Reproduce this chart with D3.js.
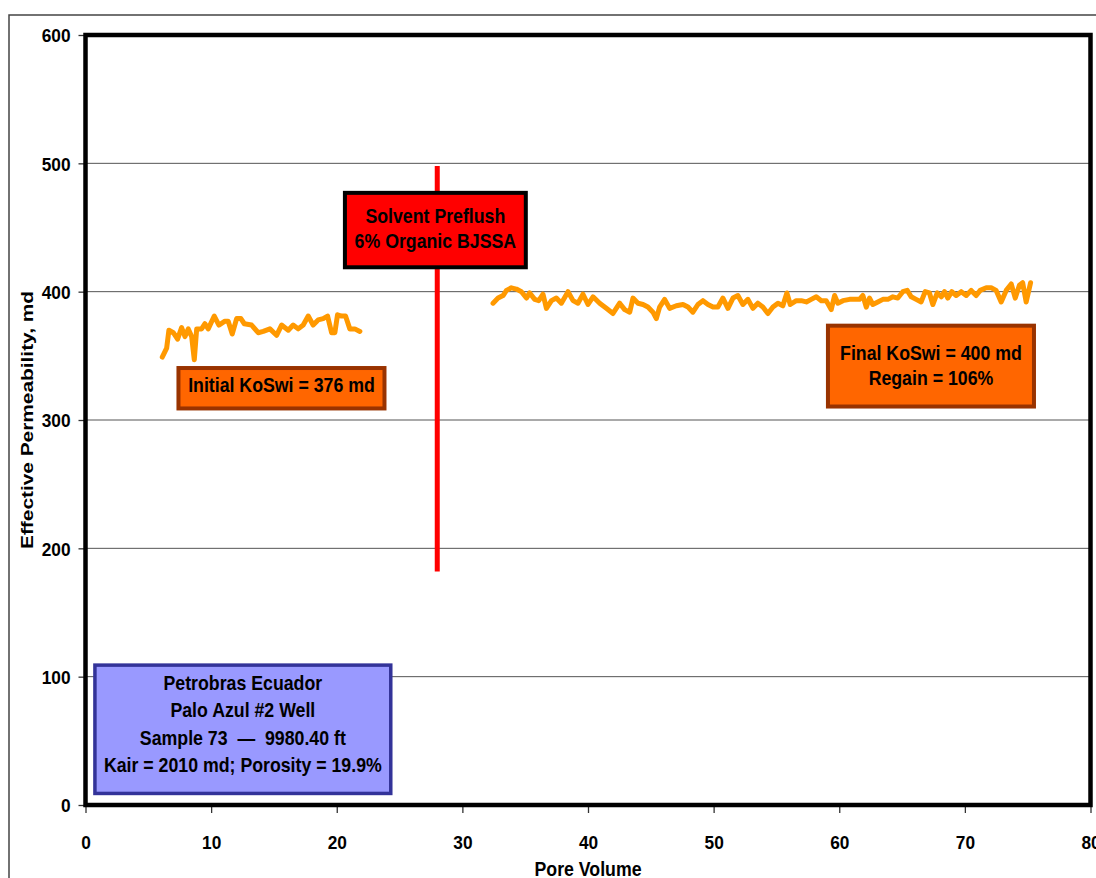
<!DOCTYPE html>
<html>
<head>
<meta charset="utf-8">
<script src="https://cdn.jsdelivr.net/npm/d3@7"></script>
<style>
  body { margin: 0; background: #fff; }
  text { font-family: "Liberation Sans", Arial, sans-serif; font-weight: bold; fill: #000; }
</style>
</head>
<body>
<div id="wrapper"></div>
<script>
// initial oil permeability (before preflush)
const initialPV = [6.11, 6.46, 6.64, 6.99, 7.33, 7.65, 7.92, 8.18, 8.45, 8.66, 8.85, 9.24, 9.51, 9.77, 10.25, 10.62, 11.1, 11.36, 11.68, 12.03, 12.37, 12.64, 13.22, 13.75, 14.15, 14.68, 15.21, 15.61, 16.14, 16.53, 16.93, 17.33, 17.73, 18.12, 18.52, 18.92, 19.27, 19.59, 19.85, 20.06, 20.38, 20.7, 21.04, 21.44, 21.84];
const initialK = [349, 356, 370, 368, 363, 372, 365, 371, 365, 347, 371, 371, 375, 371, 381, 374, 377, 377, 367, 379, 379, 375, 374, 368, 369, 371, 366, 374, 370, 374, 371, 374, 381, 374, 378, 379, 381, 368, 368, 382, 381, 381, 371, 371, 369];

// final oil permeability (after preflush)
const finalPV = [32.44, 32.84, 33.24, 33.51, 33.9, 34.3, 34.7, 35.1, 35.36, 35.76, 36.08, 36.42, 36.69, 37.09, 37.48, 37.88, 38.41, 38.81, 39.2, 39.6, 40.0, 40.4, 40.93, 41.46, 41.99, 42.52, 42.92, 43.32, 43.58, 43.98, 44.38, 44.77, 45.17, 45.44, 45.7, 46.1, 46.5, 47.03, 47.56, 47.96, 48.35, 48.75, 49.15, 49.55, 49.95, 50.34, 50.74, 51.14, 51.54, 51.93, 52.33, 52.73, 53.13, 53.52, 53.92, 54.32, 54.72, 55.12, 55.51, 55.83, 56.1, 56.58, 56.98, 57.38, 57.77, 58.17, 58.57, 58.96, 59.36, 59.63, 59.89, 60.29, 60.82, 61.22, 61.61, 61.88, 62.15, 62.41, 62.67, 63.07, 63.47, 63.87, 64.27, 64.66, 65.06, 65.41, 65.73, 66.12, 66.52, 66.84, 67.18, 67.45, 67.8, 68.12, 68.38, 68.64, 68.96, 69.31, 69.71, 70.11, 70.5, 70.9, 71.22, 71.7, 72.09, 72.49, 72.89, 73.29, 73.69, 74.01, 74.34, 74.6, 74.88, 75.23];
const finalK = [391, 395, 397, 401, 403, 402, 400, 395, 399, 394, 393, 398, 387, 393, 395, 391, 400, 393, 391, 398, 390, 396, 391, 387, 383, 391, 386, 384, 395, 391, 390, 388, 384, 379, 388, 394, 387, 389, 390, 388, 384, 390, 393, 390, 388, 388, 395, 387, 395, 397, 390, 394, 387, 391, 388, 383, 388, 391, 389, 399, 390, 393, 393, 392, 394, 396, 393, 393, 386, 397, 391, 393, 394, 394, 394, 397, 388, 395, 390, 392, 394, 394, 396, 395, 400, 401, 396, 394, 392, 400, 399, 390, 399, 396, 400, 395, 400, 397, 400, 397, 401, 397, 401, 403, 403, 401, 392, 401, 406, 395, 405, 407, 392, 407];

// preflush marker
const preflushPV = 28;
const preflushRange = [182, 498];

const xTicks = [0, 10, 20, 30, 40, 50, 60, 70, 80];
const yTicks = [0, 100, 200, 300, 400, 500, 600];

const initialLabel = ["Initial KoSwi = 376 md"];
const finalLabel = ["Final KoSwi = 400 md", "Regain = 106%"];
const stageLabel = ["Solvent Preflush", "6% Organic BJSSA"];
const wellLabel = ["Petrobras Ecuador", "Palo Azul #2 Well", "Sample 73 \u00a0\u2014\u00a0 9980.40 ft", "Kair = 2010 md; Porosity = 19.9%"];

const initialSeries = initialPV.map((x, i) => ({ x, y: initialK[i] }));
const finalSeries = finalPV.map((x, i) => ({ x, y: finalK[i] }));

// the original lettering is a tall, narrow face
const squeeze = "scale(0.91,1)";

const dimensions = {
  width: 1096,
  height: 878,
  margin: { top: 35, right: 5.5, bottom: 73, left: 85.5 },
};
dimensions.boundedWidth = dimensions.width - dimensions.margin.left - dimensions.margin.right;
dimensions.boundedHeight = dimensions.height - dimensions.margin.top - dimensions.margin.bottom;

const svg = d3.select("#wrapper")
  .append("svg")
  .attr("width", dimensions.width)
  .attr("height", dimensions.height);

// outer chart frame (cut by page edge)
svg.append("path")
  .attr("d", "M9,878V15H1096")
  .attr("fill", "none")
  .attr("stroke", "#444")
  .attr("stroke-width", 1.5);

const bounds = svg.append("g")
  .attr("transform", `translate(${dimensions.margin.left},${dimensions.margin.top})`);

const xScale = d3.scaleLinear().domain([0, 80]).range([0, dimensions.boundedWidth]);
const yScale = d3.scaleLinear().domain([0, 600]).range([dimensions.boundedHeight, 0]);

// grid
bounds.append("g")
  .selectAll("line")
  .data(yTicks.filter((d) => d > 0 && d < 600))
  .join("line")
  .attr("x1", 0)
  .attr("x2", dimensions.boundedWidth)
  .attr("y1", (d) => yScale(d))
  .attr("y2", (d) => yScale(d))
  .attr("stroke", "#555")
  .attr("stroke-width", 1);

// axes
const xAxis = bounds.append("g")
  .attr("transform", `translate(0,${dimensions.boundedHeight})`)
  .call(d3.axisBottom(xScale).tickValues(xTicks).tickSize(8).tickPadding(23).tickSizeOuter(0));
const yAxis = bounds.append("g")
  .call(d3.axisLeft(yScale).tickValues(yTicks).tickSize(7).tickPadding(0).tickSizeOuter(0));
[xAxis, yAxis].forEach((g) => {
  g.select(".domain").remove();
  g.selectAll(".tick line").attr("stroke", "#333").attr("stroke-width", 1.3);
  g.selectAll(".tick text").style("font-size", "19px").attr("fill", "#000");
});
xAxis.selectAll(".tick text").attr("transform", squeeze);
yAxis.selectAll(".tick text")
  .attr("x", 0)
  .attr("dy", "0.36em")
  .attr("transform", `translate(-15,0) ${squeeze}`);

// preflush line
bounds.append("line")
  .attr("x1", xScale(preflushPV))
  .attr("x2", xScale(preflushPV))
  .attr("y1", yScale(preflushRange[0]))
  .attr("y2", yScale(preflushRange[1]))
  .attr("stroke", "#ff0000")
  .attr("stroke-width", 5);

// permeability lines
const line = d3.line().x((d) => xScale(d.x)).y((d) => yScale(d.y));
[initialSeries, finalSeries].forEach((series) => {
  bounds.append("path")
    .datum(series)
    .attr("d", line)
    .attr("fill", "none")
    .attr("stroke", "#ff9900")
    .attr("stroke-width", 5)
    .attr("stroke-linejoin", "round")
    .attr("stroke-linecap", "round");
});

// plot area border
bounds.append("rect")
  .attr("width", dimensions.boundedWidth)
  .attr("height", dimensions.boundedHeight)
  .attr("fill", "none")
  .attr("stroke", "#000")
  .attr("stroke-width", 4.5);

// annotation boxes, placed in data units
function addBox(lines, box, fill, stroke, strokeWidth, lineGap, shift) {
  const x0 = xScale(box.x0), x1 = xScale(box.x1);
  const y0 = yScale(box.y1), y1 = yScale(box.y0);
  const g = bounds.append("g");
  g.append("rect")
    .attr("x", x0)
    .attr("y", y0)
    .attr("width", x1 - x0)
    .attr("height", y1 - y0)
    .attr("fill", fill)
    .attr("stroke", stroke)
    .attr("stroke-width", strokeWidth);
  const cy = (y0 + y1) / 2;
  g.selectAll("text")
    .data(lines)
    .join("text")
    .attr("transform", (d, i) =>
      `translate(${(x0 + x1) / 2},${cy + (i - (lines.length - 1) / 2) * lineGap + shift}) ${squeeze}`)
    .attr("text-anchor", "middle")
    .style("font-size", "19.5px")
    .text((d) => d);
}

addBox(stageLabel, { x0: 20.65, x1: 35.05, y0: 419, y1: 477 }, "#ff0000", "#000", 4, 25.5, 5.5);
addBox(initialLabel, { x0: 7.4, x1: 23.8, y0: 309, y1: 340.5 }, "#ff6600", "#993300", 4, 0, 4);
addBox(finalLabel, { x0: 59.1, x1: 75.5, y0: 310.5, y1: 373.5 }, "#ff6600", "#993300", 4, 25, 6.5);
addBox(wellLabel, { x0: 0.75, x1: 24.3, y0: 9, y1: 109 }, "#9999ff", "#333399", 3.5, 27.5, 1.5);

// axis titles
svg.append("text")
  .attr("transform", `translate(588,876) ${squeeze}`)
  .attr("text-anchor", "middle")
  .style("font-size", "19.5px")
  .text("Pore Volume");

svg.append("text")
  .attr("transform", "translate(33,420) rotate(-90)")
  .attr("text-anchor", "middle")
  .attr("textLength", 258)
  .attr("lengthAdjust", "spacingAndGlyphs")
  .style("font-size", "17px")
  .text("Effective Permeability, md");
</script>
</body>
</html>
